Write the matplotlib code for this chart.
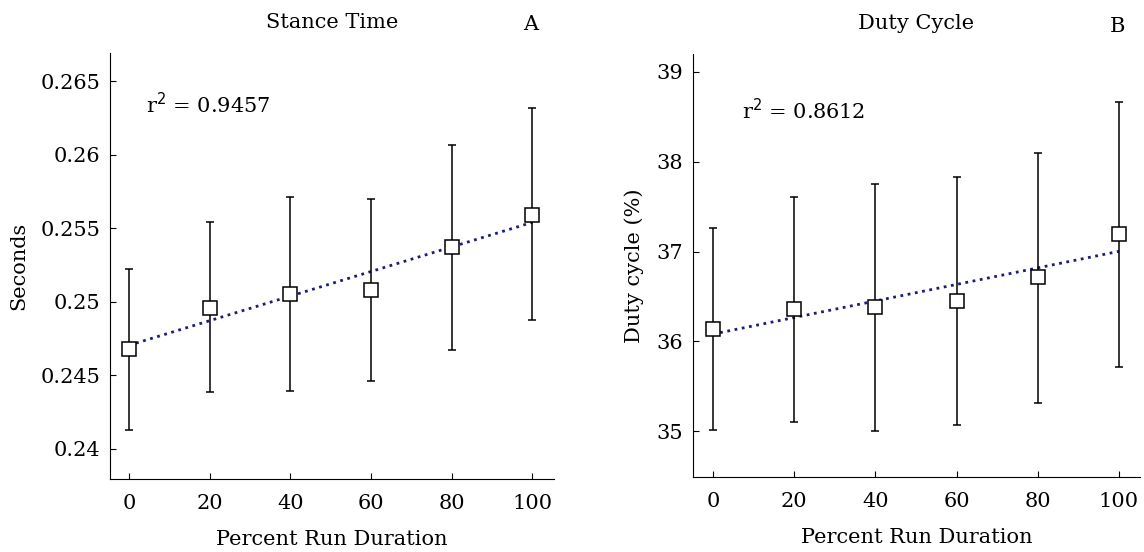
import numpy as np
import matplotlib.pyplot as plt
import matplotlib.transforms as mtransforms

plt.rcParams["font.family"] = "DejaVu Serif"

duration = [0, 20, 40, 60, 80, 100]

stance_mean  = [0.24677, 0.24959, 0.25053, 0.25078, 0.25374, 0.25592]
stance_upper = [0.25221, 0.25541, 0.25709, 0.25697, 0.26068, 0.26316]
stance_lower = [0.24131, 0.24388, 0.24393, 0.24464, 0.24675, 0.24879]

duty_mean  = [36.14, 36.36, 36.38, 36.45, 36.72, 37.20]
duty_upper = [37.26, 37.61, 37.75, 37.83, 38.10, 38.67]
duty_lower = [35.01, 35.10, 35.00, 35.07, 35.31, 35.71]

fig = plt.figure(figsize=(11.44, 5.52), dpi=100)
ax1 = fig.add_axes([0.0962, 0.1322, 0.3881, 0.7717])
ax2 = fig.add_axes([0.6058, 0.1359, 0.3907, 0.7663])

def panel(ax, mean, upper, lower, title, letter, ylabel, r2, r2_pos, yticks, ytlabels, ylim, xlim):
    x = np.array(duration)
    m = np.array(mean)
    err = [m - np.array(lower), np.array(upper) - m]

    # linear trend through the means
    p = np.polyfit(x, m, 1)
    ax.plot([0, 100], np.polyval(p, [0, 100]), color="#1c1c78", ls=":", lw=2, zorder=1)

    ax.errorbar(x, m, yerr=err, fmt="s", mfc="white", mec="black", mew=1.1,
                ms=10, ecolor="black", elinewidth=1.1, capsize=3, capthick=1.1, zorder=3)

    ax.set_xlim(*xlim)
    ax.set_ylim(*ylim)
    ax.set_xticks(duration)
    ax.set_yticks(yticks)
    ax.set_yticklabels(ytlabels)
    ax.tick_params(direction="in", length=4, labelsize=15)
    ax.tick_params(axis="x", pad=11)
    ax.tick_params(axis="y", pad=7)
    for s in ["top", "right"]:
        ax.spines[s].set_visible(False)

    ax.set_xlabel("Percent Run Duration", fontsize=15, labelpad=12)
    ax.set_ylabel(ylabel, fontsize=15, labelpad=9)
    ax.set_title(title, fontsize=15, pad=18)
    trans = mtransforms.blended_transform_factory(ax.transData, ax.transAxes)
    ax.text(99.6, 1.066, letter, transform=trans, fontsize=15, ha="center", va="center")
    ax.text(r2_pos[0], r2_pos[1], r"r$^2$ = " + r2, fontsize=15, va="center")

panel(ax1, stance_mean, stance_upper, stance_lower, "Stance Time", "A", "Seconds",
      "0.9457", (4.2, 0.26337),
      [0.24, 0.245, 0.25, 0.255, 0.26, 0.265],
      ["0.24", "0.245", "0.25", "0.255", "0.26", "0.265"], (0.23796, 0.2669), (-4.7, 105.4))

panel(ax2, duty_mean, duty_upper, duty_lower, "Duty Cycle", "B", "Duty cycle (%)",
      "0.8612", (7.1, 38.57),
      [35, 36, 37, 38, 39], ["35", "36", "37", "38", "39"], (34.49, 39.2), (-4.9, 105.2))

fig.savefig("out.png", dpi=100)
